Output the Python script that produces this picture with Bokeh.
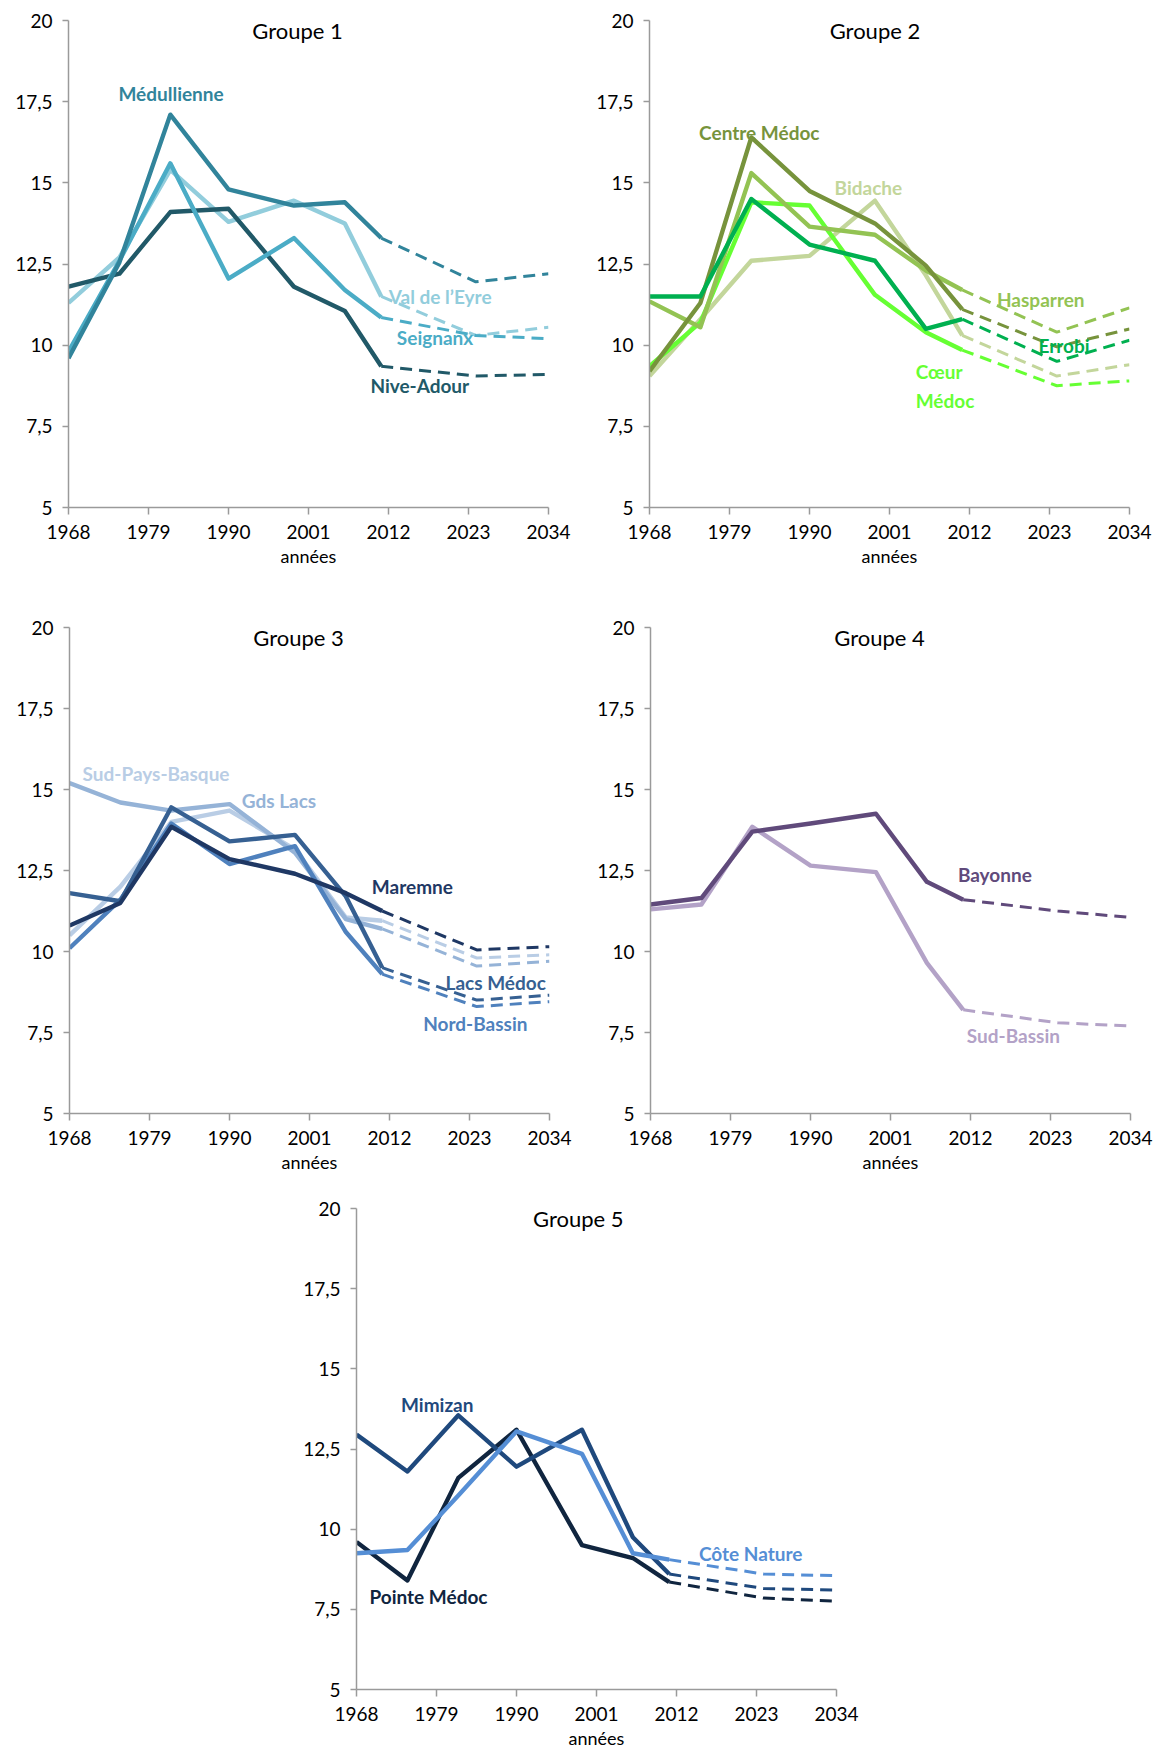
from bokeh.plotting import figure
from bokeh.layouts import column, row
from bokeh.models import FixedTicker, Range1d
from bokeh.core.properties import value
from bokeh.embed import file_html
from bokeh.resources import INLINE

# ---------------- data ----------------
years_hist = [1968, 1975, 1982, 1990, 1999, 2006, 2011]
years_proj = [2011, 2024, 2034]
x_ticks = [1968, 1979, 1990, 2001, 2012, 2023, 2034]
y_ticks = [5, 7.5, 10, 12.5, 15, 17.5, 20]
y_tick_labels = ["5", "7,5", "10", "12,5", "15", "17,5", "20"]

# Groupe 1
g1_title = "Groupe 1"
g1_names = ["Val de l’Eyre", "Nive-Adour", "Seignanx", "Médullienne"]
g1_hist = [
    [11.3, 12.7, 15.4, 13.8, 14.45, 13.75, 11.5],
    [11.8, 12.2, 14.1, 14.2, 11.8, 11.05, 9.35],
    [9.8, 12.6, 15.6, 12.05, 13.3, 11.7, 10.85],
    [9.6, 12.55, 17.1, 14.8, 14.3, 14.4, 13.3],
]
g1_proj = [[10.3, 10.55], [9.05, 9.1], [10.3, 10.2], [11.95, 12.2]]

# Groupe 2
g2_title = "Groupe 2"
g2_names = ["Bidache", "Cœur Médoc", "Hasparren", "Centre Médoc", "Errobi"]
g2_hist = [
    [9.05, 10.8, 12.6, 12.75, 14.45, 12.15, 10.3],
    [9.35, 10.7, 14.4, 14.3, 11.55, 10.4, 9.85],
    [11.35, 10.55, 15.3, 13.65, 13.4, 12.3, 11.7],
    [9.2, 11.3, 16.4, 14.75, 13.75, 12.45, 11.1],
    [11.5, 11.5, 14.5, 13.1, 12.6, 10.5, 10.8],
]
g2_proj = [[9.05, 9.4], [8.75, 8.9], [10.4, 11.15], [9.95, 10.5], [9.5, 10.15]]

# Groupe 3
g3_title = "Groupe 3"
g3_names = ["Sud-Pays-Basque", "Gds Lacs", "Nord-Bassin", "Lacs Médoc", "Maremne"]
g3_hist = [
    [10.5, 12.0, 14.0, 14.35, 13.15, 11.05, 10.95],
    [15.2, 14.6, 14.35, 14.55, 13.05, 11.0, 10.7],
    [10.1, 11.6, 13.95, 12.7, 13.25, 10.6, 9.3],
    [11.8, 11.55, 14.45, 13.4, 13.6, 11.7, 9.5],
    [10.8, 11.5, 13.85, 12.85, 12.4, 11.8, 11.25],
]
g3_proj = [[9.8, 9.9], [9.55, 9.7], [8.3, 8.45], [8.5, 8.65], [10.05, 10.15]]

# Groupe 4
g4_title = "Groupe 4"
g4_names = ["Sud-Bassin", "Bayonne"]
g4_hist = [
    [11.3, 11.45, 13.85, 12.65, 12.45, 9.65, 8.2],
    [11.45, 11.65, 13.7, 13.95, 14.25, 12.15, 11.6],
]
g4_proj = [[7.8, 7.7], [11.25, 11.05]]

# Groupe 5
g5_title = "Groupe 5"
g5_names = ["Pointe Médoc", "Mimizan", "Côte Nature"]
g5_hist = [
    [9.6, 8.4, 11.6, 13.1, 9.5, 9.1, 8.35],
    [12.95, 11.8, 13.55, 11.95, 13.1, 9.75, 8.6],
    [9.25, 9.35, 11.05, 13.05, 12.35, 9.25, 9.05],
]
g5_proj = [[7.85, 7.75], [8.15, 8.1], [8.6, 8.55]]

# ---------------- styles ----------------
g1_colors = ["#92CDDC", "#215968", "#4BACC6", "#31849B"]
g2_colors = ["#C3D69B", "#66FF33", "#93C353", "#77933C", "#00B050"]
g3_colors = ["#B9CDE5", "#95B3D7", "#4F81BD", "#366092", "#1F3864"]
g4_colors = ["#B3A2C7", "#604A7B"]
g5_colors = ["#10253F", "#1F497D", "#558ED5"]

# label positions (data coordinates)
g1_labels = [("Val de l’Eyre", 2019.1, 11.5), ("Nive-Adour", 2016.3, 8.75),
             ("Seignanx", 2018.4, 10.25), ("Médullienne", 1982.1, 17.75)]
g2_labels = [("Bidache", 1998.1, 14.85), ("Cœur\nMédoc", 0, 0), ("Hasparren", 2021.8, 11.4),
             ("Centre Médoc", 1983.1, 16.55), ("Errobi", 2025.0, 10.0)]
g3_labels = [("Sud-Pays-Basque", 1979.9, 15.5), ("Gds Lacs", 1996.8, 14.65),
             ("Nord-Bassin", 2023.8, 7.78), ("Lacs Médoc", 2026.6, 9.03), ("Maremne", 2015.15, 12.0)]
g4_labels = [("Sud-Bassin", 2017.9, 7.4), ("Bayonne", 2015.35, 12.37)]
g5_labels = [("Pointe Médoc", 1977.9, 7.9), ("Mimizan", 1979.1, 13.88), ("Côte Nature", 2022.2, 9.23)]

FONT = "Lato"


def make_fig(width, height, bl, br, bt, bb):
    p = figure(width=width, height=height,
               x_range=Range1d(1968, 2034), y_range=Range1d(5, 20),
               output_backend="svg", toolbar_location=None,
               min_border_left=bl, min_border_right=br,
               min_border_top=bt, min_border_bottom=bb)
    p.outline_line_color = None
    p.grid.visible = False
    p.background_fill_color = "white"
    p.border_fill_color = "white"
    for ax in (p.xaxis[0], p.yaxis[0]):
        ax.axis_line_color = "#9A9A9A"
        ax.axis_line_width = 1.5
        ax.major_tick_line_color = "#9A9A9A"
        ax.major_tick_line_width = 1.5
        ax.minor_tick_line_color = None
        ax.major_tick_in = 0
        ax.major_label_text_font = FONT
        ax.major_label_text_font_size = "19px"
        ax.major_label_text_color = "#000000"
    p.xaxis.ticker = FixedTicker(ticks=x_ticks)
    p.xaxis.major_tick_out = 7
    p.xaxis.major_label_standoff = 10
    p.yaxis.ticker = FixedTicker(ticks=y_ticks)
    p.yaxis.major_label_overrides = {t: l for t, l in zip(y_ticks, y_tick_labels)}
    p.yaxis.major_tick_out = 6
    p.yaxis.major_label_standoff = 10
    p.xaxis.axis_label = "années"
    p.xaxis.axis_label_text_font = FONT
    p.xaxis.axis_label_text_font_size = "18px"
    p.xaxis.axis_label_text_font_style = "normal"
    p.xaxis.axis_label_text_color = "#000000"
    p.xaxis.axis_label_standoff = 3
    return p


def draw_group(p, title, title_x, hist, proj, colors, labels):
    for h, pr, c in zip(hist, proj, colors):
        p.line(years_proj, [h[-1]] + pr, line_color=c, line_width=3, line_dash="12 7")
    for h, c in zip(hist, colors):
        p.line(years_hist, h, line_color=c, line_width=4.4, line_join="round")
    for (txt, lx, ly), c in zip(labels, colors):
        if "\n" in txt:
            continue
        p.text(x=[lx], y=[ly], text=[txt], text_color=c, text_font=value(FONT),
               text_font_style="bold", text_font_size="19px",
               text_align="center", text_baseline="middle")
    p.text(x=[title_x], y=[19.7], text=[title], text_color="#000000", text_font=value(FONT),
           text_font_size="22px", text_align="center", text_baseline="middle")


p1 = make_fig(589, 615, 68, 41, 20, 108)
draw_group(p1, g1_title, 1999.5, g1_hist, g1_proj, g1_colors, g1_labels)

p2 = make_fig(565, 615, 60, 25, 20, 108)
draw_group(p2, g2_title, 1999.0, g2_hist, g2_proj, g2_colors, g2_labels)
# two-line label for Cœur Médoc
p2.text(x=[2004.6, 2004.6], y=[9.2, 8.3], text=["Cœur", "Médoc"], text_color=g2_colors[1],
        text_font=value(FONT), text_font_style="bold", text_font_size="19px",
        text_align="left", text_baseline="middle")

p3 = make_fig(589, 581, 69, 40, 12, 83)
draw_group(p3, g3_title, 1999.5, g3_hist, g3_proj, g3_colors, g3_labels)

p4 = make_fig(565, 581, 61, 24, 12, 83)
draw_group(p4, g4_title, 1999.5, g4_hist, g4_proj, g4_colors, g4_labels)

p5 = make_fig(876, 555, 356, 40, 12, 58)
draw_group(p5, g5_title, 1998.5, g5_hist, g5_proj, g5_colors, g5_labels)

layout = column(row(p1, p2), row(p3, p4), row(p5))
open("out.html", "w").write(file_html(layout, INLINE))
